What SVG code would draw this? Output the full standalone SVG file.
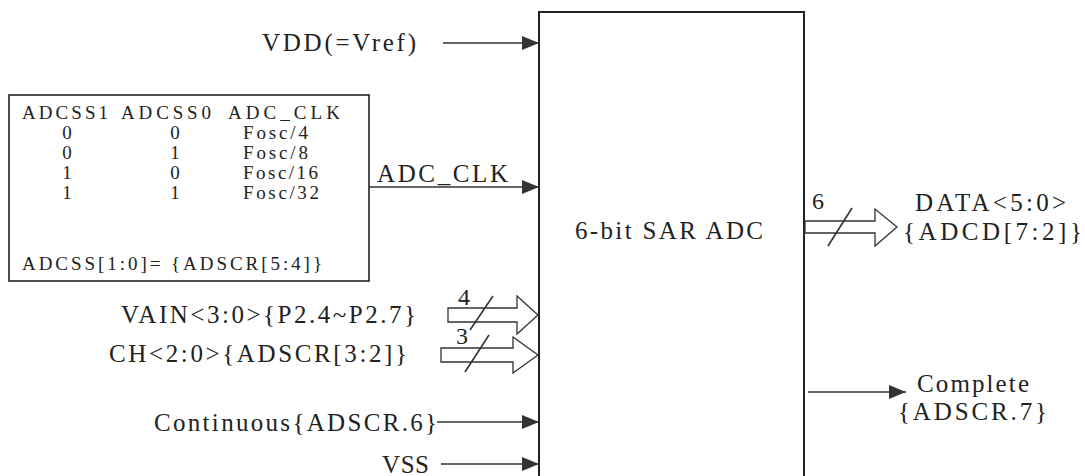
<svg xmlns="http://www.w3.org/2000/svg" width="1085" height="476" viewBox="0 0 1085 476">
<style>
text{font-family:"Liberation Serif","DejaVu Serif","Noto Serif",serif;font-size:25px;fill:#222}
.tb{font-size:19px}
.num{font-size:24px}
.ln{stroke:#333;stroke-width:1.6;fill:none}
.bus{stroke:#333;stroke-width:1.3;fill:#fff}
.box{stroke:#222;stroke-width:2;fill:#fff}
.mid{text-anchor:middle}
</style>
<defs>
<marker id="ah" markerUnits="userSpaceOnUse" markerWidth="18" markerHeight="14" refX="17" refY="7" orient="auto">
<path d="M0,0 L17,7 L0,14 z" fill="#333"/>
</marker>
</defs>
<rect width="1085" height="476" fill="#fff"/>

<g id="adc">
<path class="box" d="M539,480 L539,12 L804,12 L804,480"/>
<text x="575" y="239" textLength="188">6-bit SAR ADC</text>
</g>

<g id="clk-table">
<rect x="9" y="95" width="360" height="186" fill="#fff" stroke="#222" stroke-width="1.6"/>
<text class="tb" x="22" y="119" textLength="86">ADCSS1</text>
<text class="tb" x="121" y="119" textLength="90">ADCSS0</text>
<text class="tb" x="228" y="119" textLength="112">ADC_CLK</text>
<text class="tb mid" x="67" y="139">0</text>
<text class="tb mid" x="175" y="139">0</text>
<text class="tb" x="243" y="139" textLength="65">Fosc/4</text>
<text class="tb mid" x="67" y="159">0</text>
<text class="tb mid" x="175" y="159">1</text>
<text class="tb" x="243" y="159" textLength="65">Fosc/8</text>
<text class="tb mid" x="67" y="179">1</text>
<text class="tb mid" x="175" y="179">0</text>
<text class="tb" x="243" y="179" textLength="75">Fosc/16</text>
<text class="tb mid" x="67" y="199">1</text>
<text class="tb mid" x="175" y="199">1</text>
<text class="tb" x="243" y="199" textLength="76">Fosc/32</text>
<text class="tb" x="22" y="270" textLength="300">ADCSS[1:0]= {ADSCR[5:4]}</text>
</g>

<g id="vdd"><text x="262" y="51" textLength="154">VDD(=Vref)</text></g>
<g id="vain"><text x="121" y="323" textLength="295">VAIN&lt;3:0&gt;{P2.4~P2.7}</text></g>
<g id="ch"><text x="109" y="362" textLength="298">CH&lt;2:0&gt;{ADSCR[3:2]}</text></g>
<g id="continuous"><text x="154" y="431" textLength="283">Continuous{ADSCR.6}</text></g>
<g id="vss"><text x="382" y="473" textLength="47">VSS</text></g>
<g id="data">
<text x="915" y="211" textLength="151">DATA&lt;5:0&gt;</text>
<text x="903" y="240" textLength="179">{ADCD[7:2]}</text>
</g>
<g id="complete">
<text x="917" y="392" textLength="112">Complete</text>
<text x="898" y="420" textLength="149">{ADSCR.7}</text>
</g>

<g id="connectors">
<line class="ln" x1="443" y1="43" x2="539" y2="43" marker-end="url(#ah)"/>
<line class="ln" x1="369" y1="187" x2="539" y2="187" marker-end="url(#ah)"/>
<text x="377" y="182" textLength="131">ADC_CLK</text>
<line class="ln" x1="437" y1="422" x2="539" y2="422" marker-end="url(#ah)"/>
<line class="ln" x1="441" y1="464" x2="539" y2="464" marker-end="url(#ah)"/>
<line class="ln" x1="808" y1="392" x2="906" y2="392" marker-end="url(#ah)"/>

<polygon class="bus" points="448,308 517,308 517,296 538,315 517,334 517,322 448,322"/>
<line class="ln" x1="470" y1="330" x2="493" y2="296"/>
<text class="num" x="458" y="305">4</text>

<polygon class="bus" points="441,348 513,348 513,337 538,355 513,373 513,362 441,362"/>
<line class="ln" x1="465" y1="372" x2="489" y2="335"/>
<text class="num" x="456" y="344">3</text>

<polygon class="bus" points="805,221 875,221 875,209 897,227 875,246 875,233 805,233"/>
<line class="ln" x1="828" y1="246" x2="852" y2="208"/>
<text class="num" x="812" y="209">6</text>
</g>
</svg>
